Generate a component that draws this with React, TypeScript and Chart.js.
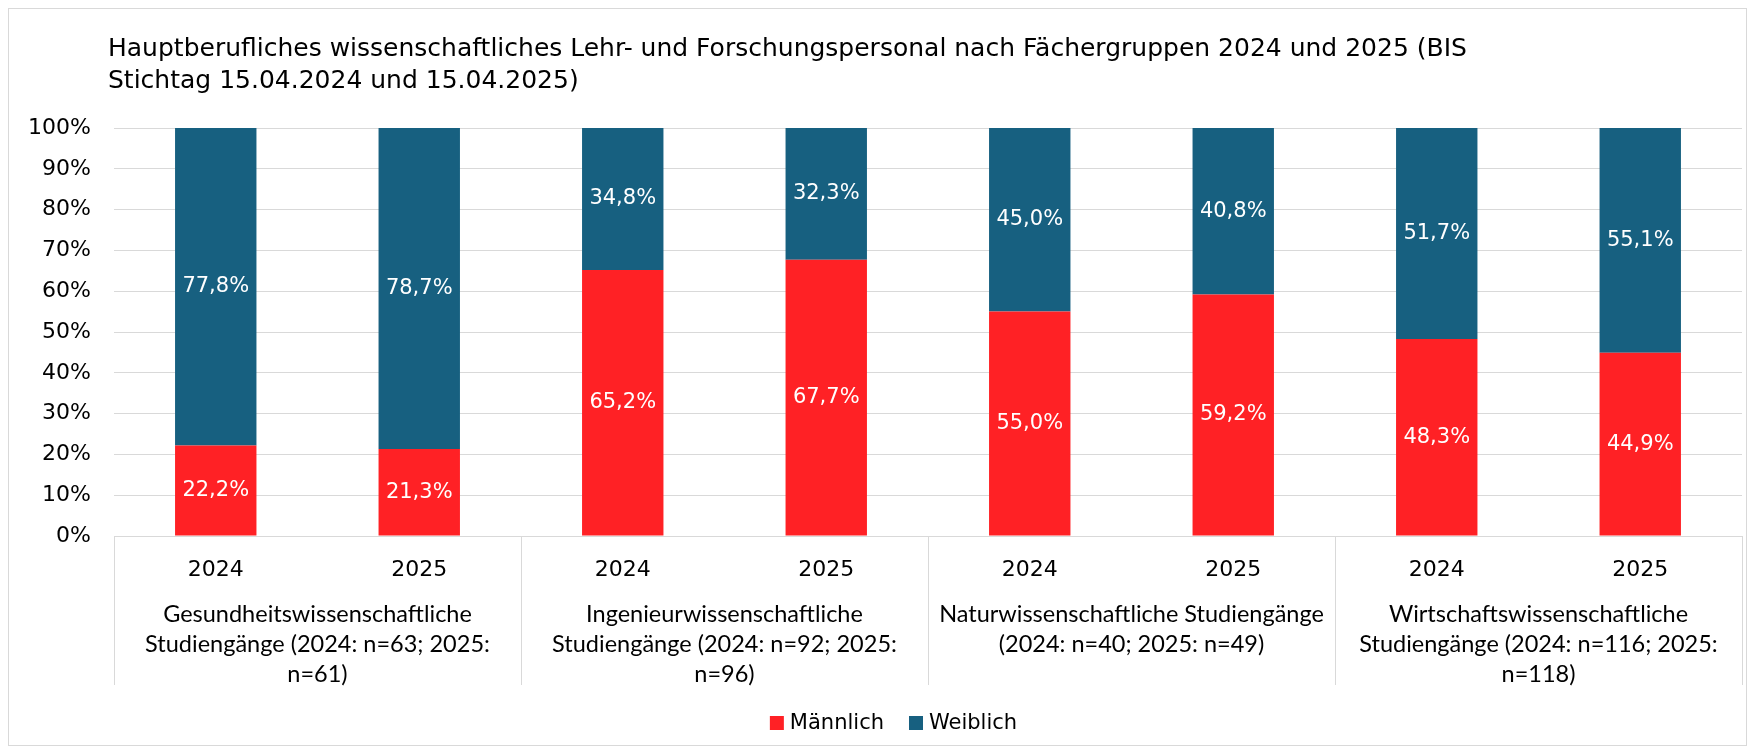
import React, { useEffect, useRef } from "react";
import { Chart, registerables } from "chart.js";

Chart.register(...registerables);

const titleLines = [
  "Hauptberufliches wissenschaftliches Lehr- und Forschungspersonal nach Fächergruppen 2024 und 2025 (BIS",
  "Stichtag 15.04.2024 und 15.04.2025)",
];
const years = ["2024", "2025", "2024", "2025", "2024", "2025", "2024", "2025"];
const groupLabels = [
  ["Gesundheitswissenschaftliche", "Studiengänge (2024: n=63; 2025:", "n=61)"],
  ["Ingenieurwissenschaftliche", "Studiengänge (2024: n=92; 2025:", "n=96)"],
  ["Naturwissenschaftliche Studiengänge", "(2024: n=40; 2025: n=49)"],
  ["Wirtschaftswissenschaftliche", "Studiengänge (2024: n=116; 2025:", "n=118)"],
];
const maennlich = [22.2, 21.3, 65.2, 67.7, 55.0, 59.2, 48.3, 44.9];
const weiblich = [77.8, 78.7, 34.8, 32.3, 45.0, 40.8, 51.7, 55.1];
const seriesNames = ["Männlich", "Weiblich"];
const yTicks = [0, 10, 20, 30, 40, 50, 60, 70, 80, 90, 100];

const RED = "#FF2125";
const BLUE = "#176080";
const GRID = "#D9D9D9";
const FONT_A = "'DejaVu Sans'";
const FONT_B = "Lato";

const fmt = (v: number) => v.toFixed(1).replace(".", ",") + "%";

const W = 1739;
const H = 738;

const decoPlugin = {
  id: "deco",
  beforeDraw(chart: any) {
    const ctx = chart.ctx;
    ctx.save();
    ctx.fillStyle = "#ffffff";
    ctx.fillRect(0, 0, chart.width, chart.height);
    ctx.strokeStyle = GRID;
    ctx.lineWidth = 1;
    ctx.strokeRect(0.5, 0.5, chart.width - 1, chart.height - 1);
    ctx.restore();
  },
  afterDraw(chart: any) {
    const ctx = chart.ctx;
    const area = chart.chartArea;
    const xs = chart.scales.x;
    ctx.save();
    // title
    ctx.fillStyle = "#000000";
    ctx.font = `25px ${FONT_A}`;
    ctx.textAlign = "left";
    ctx.textBaseline = "middle";
    titleLines.forEach((t, i) => ctx.fillText(t, 100, 41 + i * 32));

    // group separators
    const nGroups = groupLabels.length;
    const per = years.length / nGroups;
    ctx.strokeStyle = GRID;
    ctx.lineWidth = 1;
    const bounds: number[] = [];
    for (let g = 0; g <= nGroups; g++) {
      let x;
      if (g === 0) x = area.left;
      else if (g === nGroups) x = area.right;
      else x = (xs.getPixelForValue(g * per - 1) + xs.getPixelForValue(g * per)) / 2;
      bounds.push(x);
      const px = Math.round(x) + 0.5;
      ctx.beginPath();
      ctx.moveTo(px, area.bottom);
      ctx.lineTo(px, 677);
      ctx.stroke();
    }
    // group labels
    ctx.fillStyle = "#000000";
    ctx.font = `23.5px ${FONT_B}`;
    ctx.textAlign = "center";
    groupLabels.forEach((lines, g) => {
      const cx = (bounds[g] + bounds[g + 1]) / 2;
      lines.forEach((l, i) => ctx.fillText(l, cx, 606 + i * 30));
    });

    // legend
    const colors = [RED, BLUE];
    ctx.font = `21px ${FONT_A}`;
    ctx.textAlign = "left";
    const box = 14;
    const gap = 6;
    const spacing = 25;
    const widths = seriesNames.map((n) => box + gap + ctx.measureText(n).width);
    const total = widths.reduce((a, b) => a + b, 0) + spacing * (widths.length - 1);
    let lx = 885.5 - total / 2;
    const ly = 715;
    seriesNames.forEach((n, i) => {
      ctx.fillStyle = colors[i];
      ctx.fillRect(lx, ly - box / 2, box, box);
      ctx.fillStyle = "#000000";
      ctx.fillText(n, lx + box + gap, ly + 1);
      lx += widths[i] + spacing;
    });
    ctx.restore();
  },
  afterDatasetsDraw(chart: any) {
    const ctx = chart.ctx;
    ctx.save();
    ctx.fillStyle = "#ffffff";
    ctx.font = `21px ${FONT_A}`;
    ctx.textAlign = "center";
    ctx.textBaseline = "middle";
    chart.data.datasets.forEach((ds: any, di: number) => {
      const meta = chart.getDatasetMeta(di);
      meta.data.forEach((el: any, i: number) => {
        const y = (el.y + el.base) / 2;
        ctx.fillText(fmt(ds.data[i]), el.x, y);
      });
    });
    ctx.restore();
  },
};

export default function App() {
  const ref = useRef<HTMLCanvasElement>(null);
  useEffect(() => {
    if (!ref.current) return;
    const chart = new Chart(ref.current, {
      type: "bar",
      data: {
        labels: years,
        datasets: [
          { label: seriesNames[0], data: maennlich, backgroundColor: RED, barPercentage: 0.4, categoryPercentage: 1 },
          { label: seriesNames[1], data: weiblich, backgroundColor: BLUE, barPercentage: 0.4, categoryPercentage: 1 },
        ],
      },
      options: {
        responsive: false,
        animation: false,
        devicePixelRatio: 1,
        layout: { padding: { top: 120, right: 5, bottom: 150, left: 0 } },
        plugins: {
          legend: { display: false },
          title: { display: false },
          tooltip: { enabled: false },
        },
        scales: {
          x: {
            stacked: true,
            grid: { display: false },
            border: { display: false },
            ticks: { color: "#000", font: { family: FONT_A, size: 22 }, padding: 13, maxRotation: 0 },
            afterFit: (s: any) => { s.height = 60; },
          },
          y: {
            stacked: true,
            min: 0,
            max: 100,
            afterBuildTicks: (s: any) => { s.ticks = yTicks.map((v) => ({ value: v })); },
            grid: { color: GRID, lineWidth: 1, drawTicks: false },
            border: { display: false },
            ticks: {
              color: "#000",
              font: { family: FONT_A, size: 22 },
              padding: 23,
              callback: (v: any) => v + "%",
            },
            afterFit: (s: any) => { s.width = 106; },
          },
        },
      },
      plugins: [decoPlugin],
    });
    return () => chart.destroy();
  }, []);
  return (
    <div style={{ width: W, height: H }}>
      <canvas ref={ref} width={W} height={H} style={{ display: "block", width: W, height: H }} />
    </div>
  );
}
